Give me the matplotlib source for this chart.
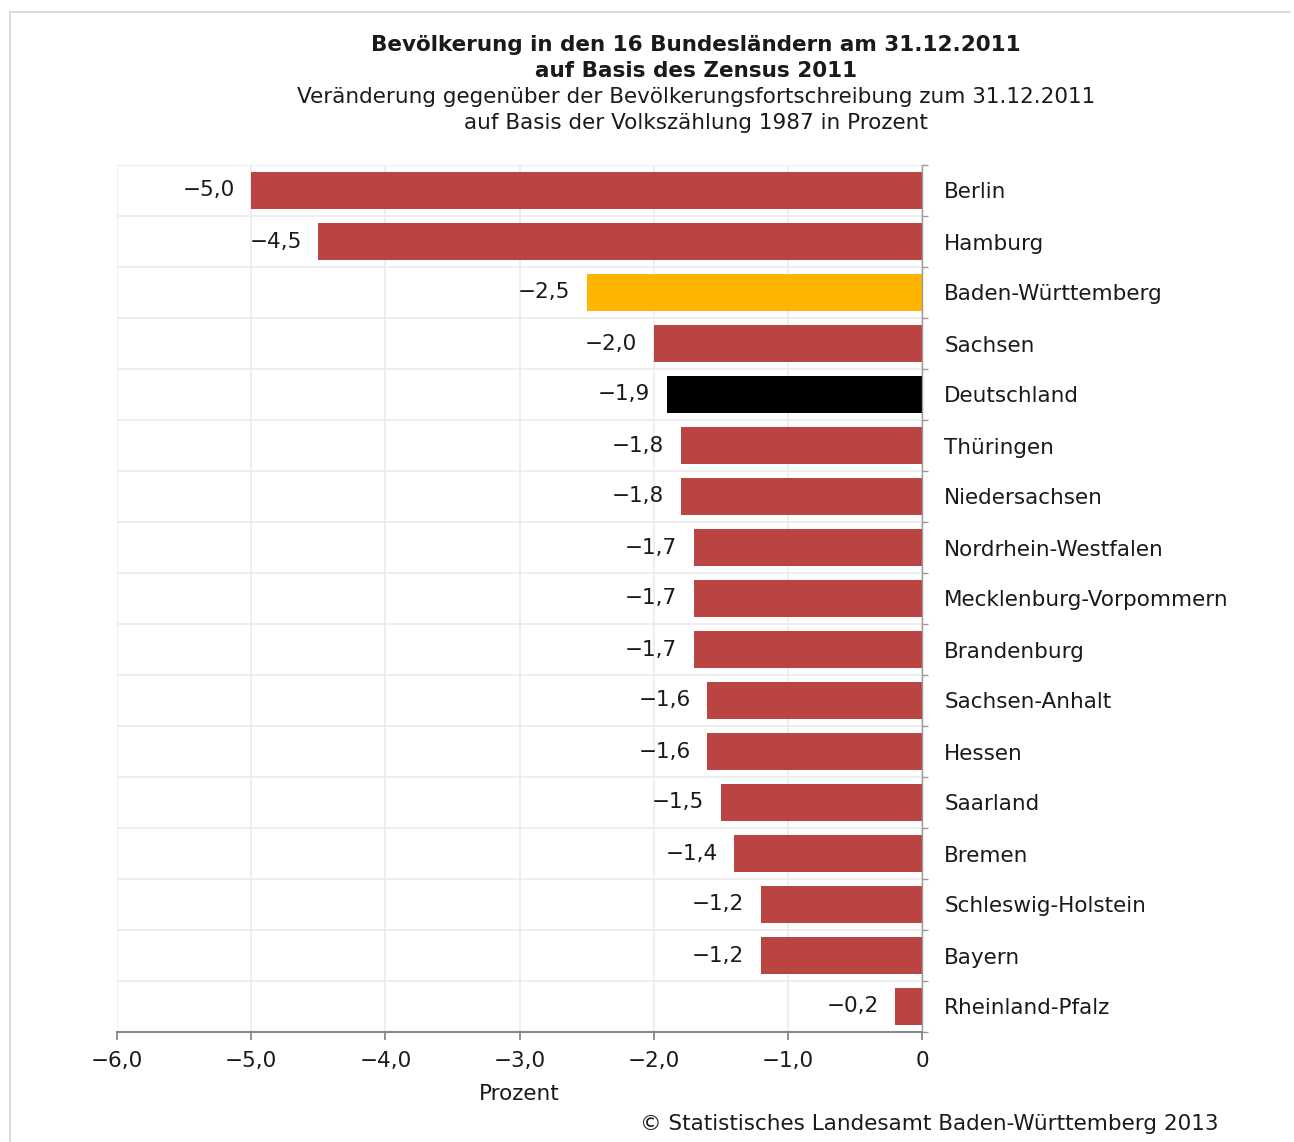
import matplotlib
matplotlib.use("Agg")
import matplotlib.pyplot as plt
from matplotlib.lines import Line2D

plt.rcParams['font.family'] = ['DejaVu Sans']

categories = ["Berlin", "Hamburg", "Baden-Württemberg", "Sachsen", "Deutschland",
              "Thüringen", "Niedersachsen", "Nordrhein-Westfalen",
              "Mecklenburg-Vorpommern", "Brandenburg", "Sachsen-Anhalt", "Hessen",
              "Saarland", "Bremen", "Schleswig-Holstein", "Bayern", "Rheinland-Pfalz"]
values = [-5.0, -4.5, -2.5, -2.0, -1.9, -1.8, -1.8, -1.7, -1.7, -1.7, -1.6, -1.6,
          -1.5, -1.4, -1.2, -1.2, -0.2]
RED, ORANGE, BLACK = "#B94442", "#FFB400", "#000000"
colors = [RED, RED, ORANGE, RED, BLACK] + [RED] * 12
xticks = [-6, -5, -4, -3, -2, -1, 0]
xticklabels = ["\u22126,0", "\u22125,0", "\u22124,0", "\u22123,0", "\u22122,0", "\u22121,0", "0"]

FS = 15.5
W, H = 1294, 1142
fig = plt.figure(figsize=(W / 100, H / 100), dpi=100)
ax = fig.add_axes([117 / W, 1 - 1032 / H, (922 - 117) / W, (1032 - 165) / H])

n = len(categories)
ypos = list(range(n))
ax.barh(ypos, values, height=0.72, color=colors, zorder=3)

ax.set_xlim(-6, 0)
ax.set_ylim(n - 0.5, -0.5)

# grid
for x in xticks:
    ax.axvline(x, color="#EBEBEB", lw=1.2, zorder=1)
for i in range(n + 1):
    ax.axhline(i - 0.5, color="#EBEBEB", lw=1.2, zorder=1)

for y, v in zip(ypos, values):
    lbl = ("\u2212" if v < 0 else "") + f"{abs(v):.1f}".replace(".", ",")
    ax.annotate(lbl, (v, y), xytext=(-12, 0), textcoords="offset points",
                ha="right", va="center", fontsize=FS, color="#1a1a1a", zorder=4)

ax.set_xticks(xticks)
ax.set_xticklabels(xticklabels, fontsize=FS, color="#1a1a1a")
ax.tick_params(axis="x", direction="out", length=6, width=1.3, color="#888888", pad=8)

ax.yaxis.tick_right()
ax.set_yticks(ypos)
ax.set_yticklabels(categories, fontsize=FS, color="#1a1a1a")
ax.set_yticks([i - 0.5 for i in range(n + 1)], minor=True)
ax.tick_params(axis="y", which="major", length=0, pad=16)
ax.tick_params(axis="y", which="minor", length=4, width=1, color="#999999", direction="out")

for s in ["top", "left"]:
    ax.spines[s].set_visible(False)
ax.spines["bottom"].set_color("#888888")
ax.spines["bottom"].set_linewidth(1.5)
ax.spines["right"].set_color("#999999")
ax.spines["right"].set_linewidth(1.0)
ax.spines["bottom"].set_zorder(5)
ax.spines["right"].set_zorder(5)

ax.set_xlabel("Prozent", fontsize=FS, color="#1a1a1a", labelpad=9)

cx = 696 / W
fig.text(cx, 1 - 45 / H, "Bevölkerung in den 16 Bundesländern am 31.12.2011",
         ha="center", va="center", fontsize=FS, fontweight="bold", color="#1a1a1a")
fig.text(cx, 1 - 71 / H, "auf Basis des Zensus 2011",
         ha="center", va="center", fontsize=FS, fontweight="bold", color="#1a1a1a")
fig.text(cx, 1 - 97 / H, "Veränderung gegenüber der Bevölkerungsfortschreibung zum 31.12.2011",
         ha="center", va="center", fontsize=FS, color="#1a1a1a")
fig.text(cx, 1 - 123 / H, "auf Basis der Volkszählung 1987 in Prozent",
         ha="center", va="center", fontsize=FS, color="#1a1a1a")
fig.text(1218 / W, 1 - 1124 / H, "© Statistisches Landesamt Baden-Württemberg 2013",
         ha="right", va="center", fontsize=FS, color="#1a1a1a")

# frame lines
fig.add_artist(Line2D([10 / W, 1290 / W], [1 - 12 / H, 1 - 12 / H], color="#D5D5D5", lw=1.2))
fig.add_artist(Line2D([10 / W, 10 / W], [1 - 12 / H, 0], color="#D5D5D5", lw=1.2))

fig.savefig("out.png", dpi=100)
